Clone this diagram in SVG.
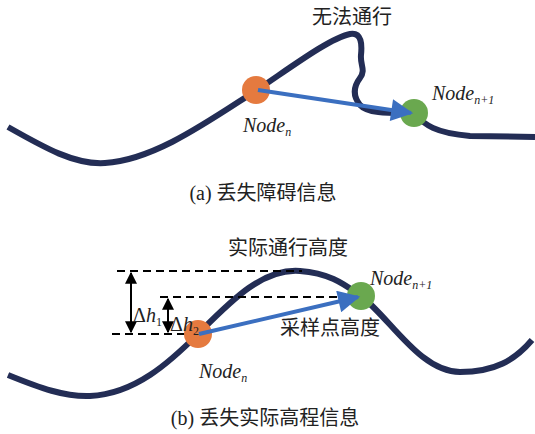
<svg xmlns="http://www.w3.org/2000/svg" width="535" height="434" viewBox="0 0 535 434">
<defs>
<marker id="blueHead" viewBox="0 0 10 10" refX="9" refY="5" markerWidth="6" markerHeight="5.5" markerUnits="strokeWidth" orient="auto">
<path d="M0,0 L10,5 L0,10 z" fill="#3b6fc0"/>
</marker>
<marker id="blk" viewBox="0 0 10 10" refX="9" refY="5" markerWidth="7" markerHeight="6" markerUnits="strokeWidth" orient="auto-start-reverse">
<path d="M0,0 L10,5 L0,10 z" fill="#000"/>
</marker>
<style>
.terrain{fill:none;stroke:#232d55;stroke-width:6;stroke-linecap:butt;stroke-linejoin:round}
.blue{fill:none;stroke:#3b6fc0;stroke-width:4;marker-end:url(#blueHead)}
.dash{fill:none;stroke:#000;stroke-width:2;stroke-dasharray:8,5}
.dim{fill:none;stroke:#000;stroke-width:2;marker-start:url(#blk);marker-end:url(#blk)}
.cn{font-family:"Liberation Serif","Noto Sans CJK SC",serif;font-size:20px;fill:#222}
.it{font-family:"Liberation Serif",serif;font-style:italic;font-size:20px;fill:#222}
.sub{font-size:12px}
.orange{fill:#e57a3f}
.green{fill:#6aa84f}
</style>
</defs>

<g id="terrain-a">
<path class="terrain" d="M8,127 C45,148 75,165 105,163 C155,160 210,120 257,90 C290,68 330,38 350,34 C362,32 362,45 361,55 C360,65 366,70 360,78 C354,86 352,95 360,105 C368,114 390,113 413,113 C425,125 435,133 470,136 L535,137"/>
</g>
<g id="terrain-b">
<path class="terrain" d="M8,375 C40,388 65,397 90,396 C135,394 170,362 198,334 C230,302 262,268 300,271 C330,273 345,285 361,296 C390,318 420,372 460,372 C495,372 515,360 532,340"/>
</g>

<g id="connectors">
<line class="dash" x1="117" y1="271" x2="302" y2="271"/>
<line class="dash" x1="160" y1="297" x2="355" y2="297"/>
<line class="dash" x1="112" y1="334" x2="198" y2="334"/>
<line class="dim" x1="131" y1="273" x2="131" y2="332"/>
<line class="dim" x1="168" y1="299" x2="168" y2="332"/>
</g>

<g id="node-a-n"><circle class="orange" cx="256" cy="90" r="14"/></g>
<g id="node-a-n1"><circle class="green" cx="414" cy="113" r="14"/></g>
<g id="node-b-n"><circle class="orange" cx="198" cy="334" r="14"/></g>
<g id="node-b-n1"><circle class="green" cx="361" cy="296" r="14"/></g>

<g id="arrows">
<line class="blue" x1="258" y1="90" x2="411" y2="113"/>
<line class="blue" x1="199" y1="334" x2="358" y2="297"/>
</g>

<g id="labels">
<text class="cn" x="352" y="24" text-anchor="middle">无法通行</text>
<text class="it" x="243" y="132">Node<tspan class="sub" dy="4">n</tspan></text>
<text class="it" x="432" y="100">Node<tspan class="sub" dy="4">n+1</tspan></text>
<text class="cn" x="263" y="200" text-anchor="middle">(a) 丢失障碍信息</text>

<text class="cn" x="288" y="255" text-anchor="middle">实际通行高度</text>
<text class="cn" x="280" y="335">采样点高度</text>
<text class="it" x="199" y="378">Node<tspan class="sub" dy="4">n</tspan></text>
<text class="it" x="370" y="285">Node<tspan class="sub" dy="4">n+1</tspan></text>
<text class="it" x="133" y="322"><tspan font-style="normal">Δ</tspan>h<tspan class="sub" font-style="normal" dy="4">1</tspan></text>
<text class="it" x="170" y="331"><tspan font-style="normal">Δ</tspan>h<tspan class="sub" font-style="normal" dy="4">2</tspan></text>
<text class="cn" x="265" y="425" text-anchor="middle">(b) 丢失实际高程信息</text>
</g>
</svg>
